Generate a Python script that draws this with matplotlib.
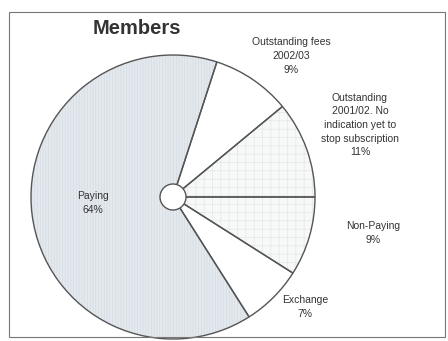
import matplotlib.pyplot as plt
from matplotlib.patches import Rectangle, Circle

# slices, clockwise from the top-right edge of Paying
labels = ['Outstanding fees\n2002/03', 'Outstanding\n2001/02. No\nindication yet to\nstop subscription',
          'Non-Paying', 'Exchange', 'Paying']
shares = [9, 11, 9, 7, 64]
fills = ['#ffffff', '#f7f8f8', '#f7f8f8', '#ffffff', '#e4e9ee']
hatches = [None, '++', '++', None, '||||||']
hatch_cols = ['#ffffff', '#e3e6e8', '#e3e6e8', '#ffffff', '#d4dbe3']
label_pos = [(291, 285), (360, 216), (373, 108), (305, 34), (93, 138)]

plt.rcParams['hatch.linewidth'] = 0.5

fig = plt.figure(figsize=(4.48, 3.41), dpi=100)
ax = fig.add_axes([0, 0, 1, 1])

# filled, textured layer (hatch takes the edge colour)
wedges, _ = ax.pie(shares, colors=fills, startangle=72, counterclock=False,
                   center=(173, 144), radius=142, frame=True,
                   wedgeprops=dict(linewidth=0))
for w, h, hc in zip(wedges, hatches, hatch_cols):
    w.set_edgecolor(hc)
    if h:
        w.set_hatch(h)

# outlines on top
ax.pie(shares, startangle=72, counterclock=False, center=(173, 144), radius=142,
       frame=True, wedgeprops=dict(fill=False, edgecolor='#555555', linewidth=1.0))

ax.set_xlim(0, 448)
ax.set_ylim(0, 341)
ax.set_aspect('equal')
ax.axis('off')

ax.add_patch(Circle((173, 144), 13, facecolor='white', edgecolor='#555555', lw=1.0, zorder=5))
ax.add_patch(Rectangle((9, 4), 436, 325, fill=False, edgecolor='#777777', lw=0.8, zorder=6))

ax.text(137, 313, 'Members', fontsize=14.5, fontweight='bold', color='#333333',
        ha='center', va='center', family='Liberation Sans')

for lab, s, (x, y) in zip(labels, shares, label_pos):
    ax.text(x, y, f'{lab}\n{s}%', fontsize=7.5, color='#333333', ha='center', va='center',
            linespacing=1.45, family='Liberation Sans')

fig.savefig('out.png', dpi=100)
